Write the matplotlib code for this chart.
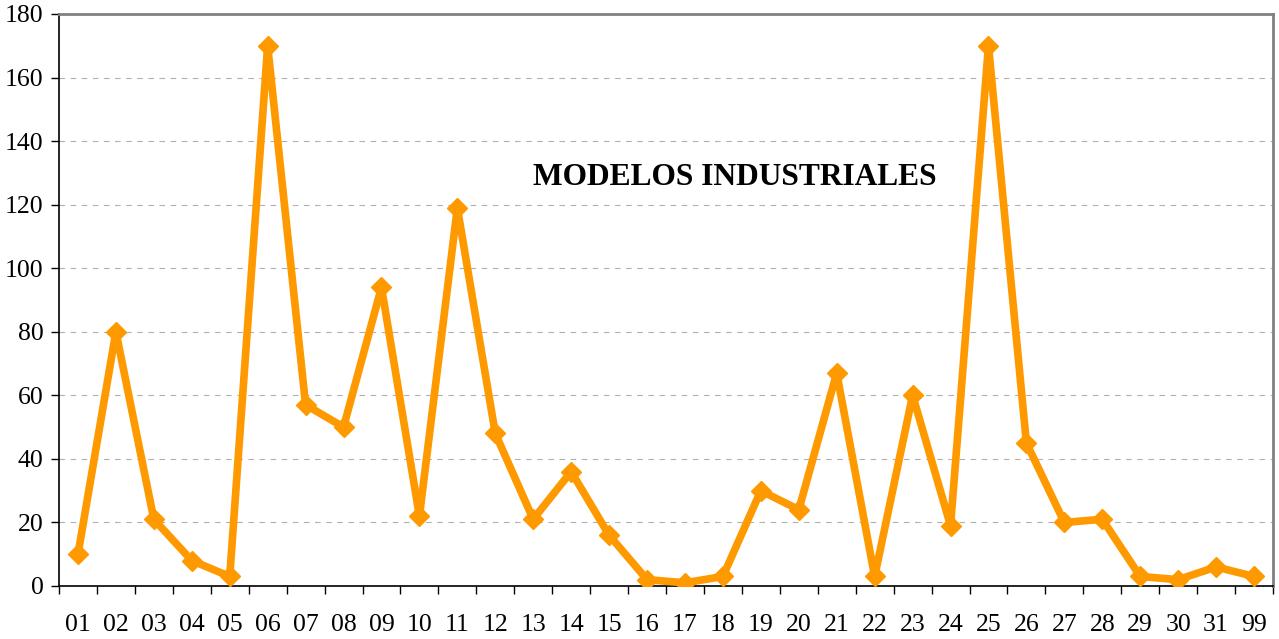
import numpy as np
import matplotlib.pyplot as plt

categories = ['01', '02', '03', '04', '05', '06', '07', '08', '09', '10',
              '11', '12', '13', '14', '15', '16', '17', '18', '19', '20',
              '21', '22', '23', '24', '25', '26', '27', '28', '29', '30',
              '31', '99']
values = [10, 80, 21, 8, 3, 170, 57, 50, 94, 22,
          119, 48, 21, 36, 16, 2, 1, 3, 30, 24,
          67, 3, 60, 19, 170, 45, 20, 21, 3, 2,
          6, 3]
y_ticks = [0, 20, 40, 60, 80, 100, 120, 140, 160, 180]
title = 'MODELOS INDUSTRIALES'

plt.rcParams['font.family'] = ['Liberation Serif', 'DejaVu Serif']

fig = plt.figure(figsize=(12.79, 6.39), dpi=100)
ax = fig.add_axes([59 / 1279, 1 - 586 / 639, (1273 - 59) / 1279, (586 - 14) / 639])

x = np.arange(len(categories))
ax.plot(x, values, color='#FF9900', linewidth=5.5, marker='D', markersize=10,
        solid_joinstyle='round', solid_capstyle='round', zorder=3)

ax.set_xlim(-0.5, len(categories) - 0.5)
ax.set_ylim(0, 180)
ax.set_yticks(y_ticks)
ax.yaxis.grid(True, linestyle=(0, (5, 5)), color='#b0b0b0', linewidth=0.8)
ax.set_axisbelow(True)

# category labels sit between tick marks
ax.set_xticks(np.arange(len(categories) + 1) - 0.5)
ax.set_xticklabels([])
ax.set_xticks(x, minor=True)
ax.set_xticklabels(categories, minor=True, fontsize=18.5)
ax.tick_params(axis='x', which='minor', length=0, pad=20)
ax.tick_params(axis='x', which='major', length=6, width=1, direction='out')
ax.tick_params(axis='y', labelsize=18.5, length=6, width=1, pad=5)

ax.spines['left'].set_color('black')
ax.spines['bottom'].set_color('black')
ax.spines['left'].set_linewidth(1.2)
ax.spines['bottom'].set_linewidth(1.2)
ax.spines['top'].set_color('#808080')
ax.spines['right'].set_color('#808080')
ax.spines['top'].set_linewidth(2)
ax.spines['right'].set_linewidth(2)

ax.text(0.557, 0.715, title, transform=ax.transAxes, ha='center', va='center',
        fontsize=22.7, fontweight='bold')

fig.savefig('out.png', dpi=100)
